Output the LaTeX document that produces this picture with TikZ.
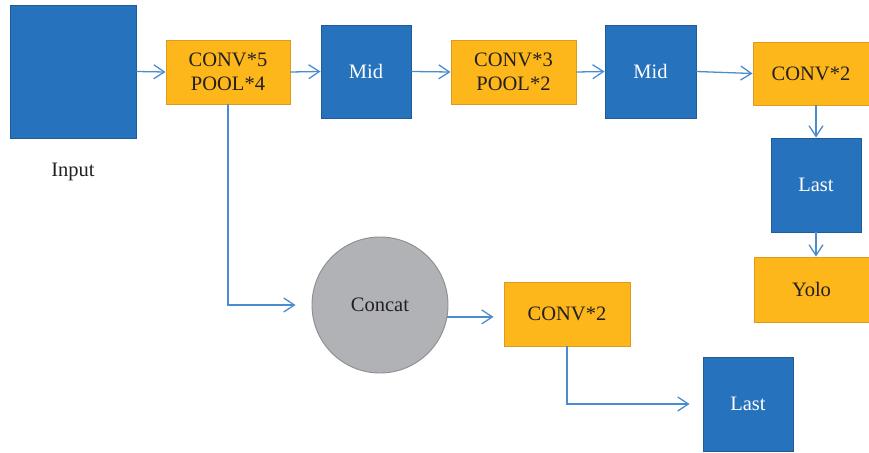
\documentclass[tikz,border=0pt]{standalone}
\usepackage{fontspec}
\setmainfont{Liberation Serif}
\usetikzlibrary{arrows.meta}

\definecolor{boxblue}{HTML}{2672BC}
\definecolor{boxblueline}{HTML}{1F5D99}
\definecolor{boxorange}{HTML}{FDB71A}
\definecolor{boxorangeline}{HTML}{DC9B1E}
\definecolor{circgray}{HTML}{B1B2B6}
\definecolor{circline}{HTML}{8E8F93}
\definecolor{linkblue}{HTML}{4A8CD0}
\definecolor{txtdark}{HTML}{231F20}

\begin{document}
\begin{tikzpicture}[x=0.03cm, y=-0.03cm,
    every node/.style={inner sep=0pt, align=center, font=\fontsize{17.5}{20}\selectfont},
    bluebox/.style={rectangle, draw=boxblueline, line width=0.8pt, fill=boxblue, text=white},
    orangebox/.style={rectangle, draw=boxorangeline, line width=0.8pt, fill=boxorange, text=txtdark},
    link/.style={draw=linkblue, line width=1.1pt, -{Straight Barb[length=3.2mm, width=4.2mm, line width=1.1pt]}}]
    \path[use as bounding box] (0,0) rectangle (869,453);

    % top row
    \node[bluebox, minimum width=3.78cm, minimum height=3.99cm] (input) at (73,71.5) {};
    \node[text=txtdark] (inputlbl) at (73,172) {Input};
    \node[orangebox, minimum width=3.72cm, minimum height=1.92cm] (conva) at (228,72) {CONV*5\\POOL*4};
    \node[bluebox, minimum width=2.7cm, minimum height=2.79cm] (mida) at (366,71.5) {Mid};
    \node[orangebox, minimum width=3.75cm, minimum height=1.92cm] (convb) at (513.5,72) {CONV*3\\POOL*2};
    \node[bluebox, minimum width=2.73cm, minimum height=2.79cm] (midb) at (650.5,71.5) {Mid};
    \node[orangebox, minimum width=3.48cm, minimum height=1.89cm] (convc) at (811,73.5) {CONV*2};

    % right column
    \node[bluebox, minimum width=2.7cm, minimum height=2.82cm] (lasta) at (816,185) {Last};
    \node[orangebox, minimum width=3.45cm, minimum height=1.95cm] (yolo) at (811.5,289.5) {Yolo};

    % lower branch
    \node[circle, draw=circline, line width=0.8pt, fill=circgray, text=txtdark, minimum size=4.08cm] (concat) at (380,305) {Concat};
    \node[orangebox, minimum width=3.78cm, minimum height=1.92cm] (convd) at (567,314) {CONV*2};
    \node[bluebox, minimum width=2.7cm, minimum height=2.82cm] (lastb) at (748,404) {Last};

    \draw[link] (input.east) -- (conva.west);
    \draw[link] (conva.east) -- (mida.west);
    \draw[link] (mida.east) -- (convb.west);
    \draw[link] (convb.east) -- (midb.west);
    \draw[link] (midb.east) -- (convc.west);
    \draw[link] (lasta.north |- convc.south) -- (lasta.north);
    \draw[link] (lasta.south) -- (lasta.south |- yolo.north);
    % skip connection
    \draw[link, shorten >=0.48cm] (conva.south) |- (concat.west);
    \draw[link, shorten >=0.3cm] (concat.-10) -- (concat.-10 -| convd.west);
    \draw[link, shorten >=0.39cm] (convd.south) |- (lastb.west);

    \end{tikzpicture}
\end{document}
